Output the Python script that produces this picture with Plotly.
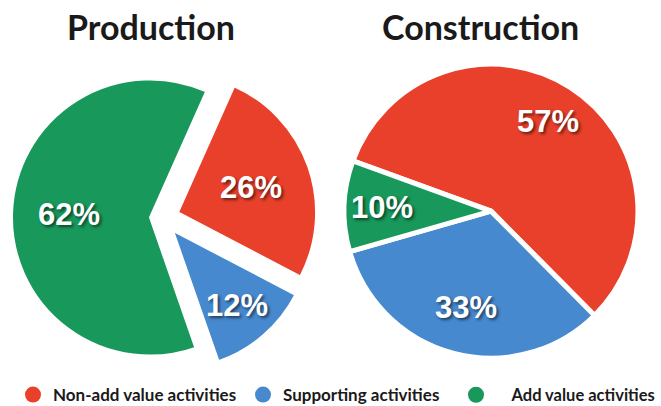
import math
import plotly.graph_objects as go

labels = ["Non-add value activities", "Supporting activities", "Add value activities"]
colors = ["#E9402B", "#4789CF", "#18985B"]
production = [26, 12, 62]
construction = [57, 33, 10]
titles = ["Production", "Construction"]

W, H = 661, 406

pies = [
    dict(values=production, rotation=24, pull=[0.123, 0.123, 0.087], line=2,
         dx=[0.0106, 0.4796], dy=[0.0813, 0.8448], lab_r=[0.56, 0.71, 0.59]),
    dict(values=construction, rotation=290, pull=[0, 0, 0], line=5,
         dx=[0.5204, 0.9652], dy=[0.118, 0.842], lab_r=[0.72, 0.68, 0.74]),
]

fig = go.Figure()
lab_font = dict(family="Liberation Sans", size=31, color="white", weight="bold",
                shadow="2px 2px 3px rgba(0,0,0,0.55)")

for p in pies:
    fig.add_trace(go.Pie(
        labels=labels, values=p["values"], sort=False, direction="clockwise",
        rotation=p["rotation"], pull=p["pull"],
        marker=dict(colors=colors, line=dict(color="white", width=p["line"])),
        textinfo="none", domain=dict(x=p["dx"], y=p["dy"]), showlegend=False,
        hoverinfo="label+percent",
    ))
    # place percentage labels using the pie geometry (same as plotly.js)
    rx = W * (p["dx"][1] - p["dx"][0])
    ry = H * (p["dy"][1] - p["dy"][0])
    r = min(rx, ry) / (2 + 2 * max(p["pull"]))
    cx = W * (p["dx"][0] + p["dx"][1]) / 2
    cy = H * (1 - p["dy"][0]) - ry / 2
    total = sum(p["values"])
    ang = math.radians(p["rotation"])
    for v, pl, fr in zip(p["values"], p["pull"], p["lab_r"]):
        mid = ang + math.pi * v / total
        ang += 2 * math.pi * v / total
        d = (pl + fr) * r
        px = cx + d * math.sin(mid)
        py = cy - d * math.cos(mid)
        fig.add_annotation(x=px / W, y=1 - py / H, xref="paper", yref="paper",
                           text=f"{v}%", showarrow=False, xanchor="center",
                           yanchor="middle", font=lab_font)

legend_left = [13, 243, 456]
name_pad = ["", "", "\u00a0" * 4]
legend_size = [17, 17, 16.5]
for i, (lab, col) in enumerate(zip(labels, colors)):
    key = "legend" if i == 0 else f"legend{i+1}"
    fig.add_trace(go.Scatter(x=[None], y=[None], mode="markers", name=name_pad[i] + lab,
                             legend=key, marker=dict(symbol="circle", size=21, color=col)))
    fig.update_layout({key: dict(x=legend_left[i] / W, xanchor="left", y=1 - 395 / H,
                                 yanchor="middle", bgcolor="rgba(0,0,0,0)",
                                 font=dict(family="Lato", size=legend_size[i], color="#1a1a1a",
                                           weight="bold"))})

for t, xc in zip(titles, [150.5, 480]):
    fig.add_annotation(x=xc / W, y=1 - 26 / H, xref="paper", yref="paper", text=f"<b>{t}</b>",
                       showarrow=False, xanchor="center", yanchor="middle",
                       font=dict(family="Lato", size=34, color="#1a1a1a"))

fig.update_layout(
    width=W, height=H, margin=dict(l=0, r=0, t=0, b=0, autoexpand=False),
    paper_bgcolor="white", plot_bgcolor="white",
    xaxis=dict(visible=False), yaxis=dict(visible=False),
)

fig.write_html("out.html", config={"displayModeBar": False},
               post_script="document.body.style.margin='0';")
